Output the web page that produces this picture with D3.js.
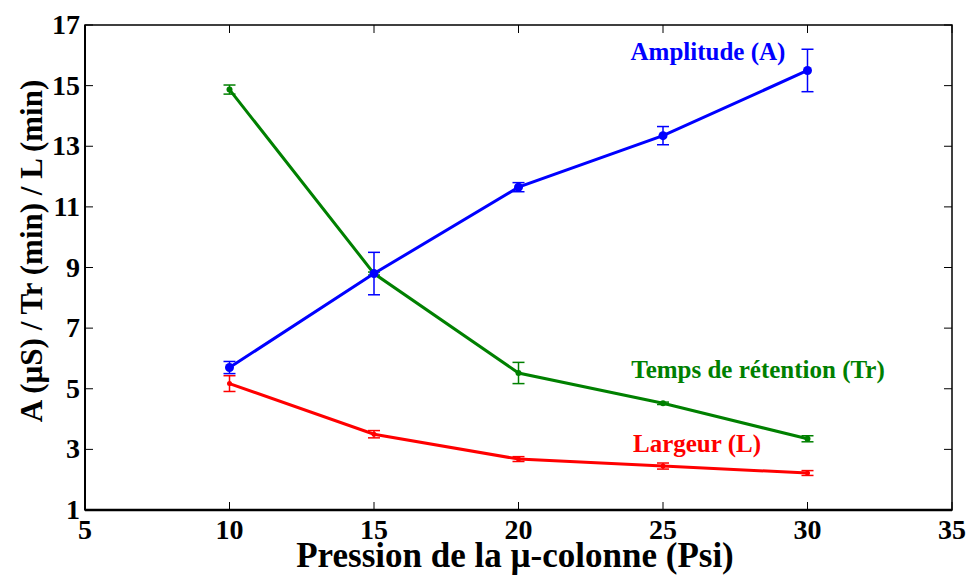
<!DOCTYPE html>
<html><head><meta charset="utf-8">
<script src="https://cdn.jsdelivr.net/npm/d3@7"></script>
</head><body style="margin:0"><svg id="c" width="971" height="575" style="display:block"></svg>
<script>
const pressures = [10, 15, 20, 25, 30];
const amplitude = [5.7, 8.8, 11.65, 13.35, 15.5];
const amplitudeErr = [0.2, 0.7, 0.15, 0.3, 0.7];
const retention = [14.87, 8.8, 5.52, 4.52, 3.35];
const retentionErr = [0.15, 0.05, 0.35, 0.04, 0.1];
const largeur = [5.17, 3.5, 2.68, 2.45, 2.22];
const largeurErr = [0.26, 0.12, 0.08, 0.1, 0.08];
const xTicks = [5, 10, 15, 20, 25, 30, 35];
const yTicks = [1, 3, 5, 7, 9, 11, 13, 15, 17];

const svg = d3.select("#c");
function txt(xp, yp, s, size, color, anchor) {
  return svg.append("text").attr("x", xp).attr("y", yp).attr("text-anchor", anchor || "middle")
    .style("font-family", "'Liberation Serif'").style("font-weight", "bold")
    .style("font-size", size + "px").style("fill", color || "#000").text(s);
}
const L = 85, R = 952, T = 25, B = 510;
const x = d3.scaleLinear().domain([5, 35]).range([L, R]);
const y = d3.scaleLinear().domain([1, 17]).range([B, T]);

svg.append("rect").attr("x", L).attr("y", T).attr("width", R - L).attr("height", B - T)
  .attr("fill", "none").attr("stroke", "#000").attr("stroke-width", 1.5);
svg.append("line").attr("x1", L).attr("x2", R).attr("y1", B).attr("y2", B).attr("stroke", "#000").attr("stroke-width", 2.5);
svg.append("line").attr("x1", L).attr("x2", L).attr("y1", T).attr("y2", B).attr("stroke", "#000").attr("stroke-width", 2);

const tl = 8;
xTicks.forEach(v => {
  svg.append("line").attr("x1", x(v)).attr("x2", x(v)).attr("y1", B).attr("y2", B - tl).attr("stroke", "#000").attr("stroke-width", 1);
  svg.append("line").attr("x1", x(v)).attr("x2", x(v)).attr("y1", T).attr("y2", T + tl).attr("stroke", "#000").attr("stroke-width", 1);
  txt(x(v), B + 29, String(v), 28);
});
yTicks.forEach(v => {
  svg.append("line").attr("x1", L).attr("x2", L + tl).attr("y1", y(v)).attr("y2", y(v)).attr("stroke", "#000").attr("stroke-width", 1);
  svg.append("line").attr("x1", R).attr("x2", R - tl).attr("y1", y(v)).attr("y2", y(v)).attr("stroke", "#000").attr("stroke-width", 1);
  txt(L - 5, y(v) + 9, String(v), 28, "#000", "end");
});

txt(515, 567, "Pression de la µ-colonne (Psi)", 35);
txt(0, 0, "A (µS) / Tr (min) / L (min)", 31).attr("transform", `translate(42,251) rotate(-90)`);

function series(vals, errs, color, r) {
  const data = pressures.map((p, i) => ({p, v: vals[i], e: errs[i]}));
  const line = d3.line().x(d => x(d.p)).y(d => y(d.v));
  svg.append("path").datum(data).attr("d", line).attr("fill", "none")
    .attr("stroke", color).attr("stroke-width", 3);
  const g = svg.append("g").attr("stroke", color).attr("stroke-width", 1.5);
  data.forEach(d => {
    g.append("line").attr("x1", x(d.p)).attr("x2", x(d.p)).attr("y1", y(d.v - d.e)).attr("y2", y(d.v + d.e));
    [d.v - d.e, d.v + d.e].forEach(yy => g.append("line").attr("x1", x(d.p) - 6).attr("x2", x(d.p) + 6).attr("y1", y(yy)).attr("y2", y(yy)));
  });
  svg.append("g").selectAll("circle").data(data).join("circle")
    .attr("cx", d => x(d.p)).attr("cy", d => y(d.v)).attr("r", r).attr("fill", color);
}
series(largeur, largeurErr, "#ff0000", 2.5);
series(retention, retentionErr, "#008000", 3);
series(amplitude, amplitudeErr, "#0000ff", 4.5);

txt(708, 60, "Amplitude (A)", 25, "#0000ff");
txt(758, 378, "Temps de rétention (Tr)", 25, "#008000");
txt(697, 452, "Largeur (L)", 25, "#ff0000");
</script></body></html>
